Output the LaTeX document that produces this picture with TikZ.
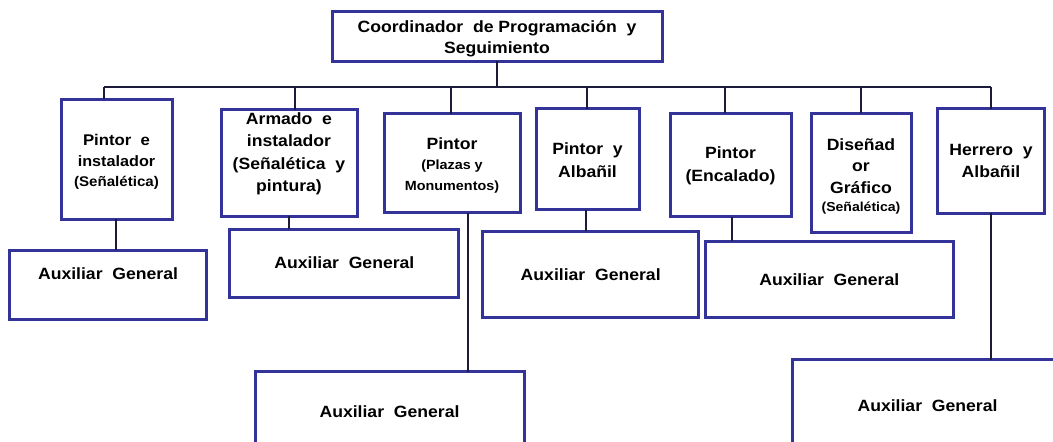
\documentclass[tikz,border=0pt]{standalone}
\usepackage{fontspec}
\setmainfont{Liberation Sans}[FakeStretch=1.08, BoldFont={Liberation Sans Bold}]
\definecolor{boxblue}{RGB}{51,51,153}
\definecolor{connline}{RGB}{28,28,58}
\newcommand{\mainf}{\fontsize{16.3}{21.5}\selectfont}
\newcommand{\midf}{\fontsize{15}{20}\selectfont}
\newcommand{\smf}{\fontsize{13.3}{19}\selectfont}
\tikzset{
  orgbox/.style={draw=boxblue, line width=3pt, fill=white, inner sep=0pt, outer sep=0pt},
  txt/.style={align=center, inner sep=0pt, font=\bfseries\mainf, text=black},
  conn/.style={draw=connline, line width=2pt}
}
\begin{document}
\begin{tikzpicture}[x=1pt,y=-1pt]
\useasboundingbox (0,0) rectangle (1053,442);
\clip (0,0) rectangle (1053,442);
% top
\node[orgbox, minimum width=330pt, minimum height=50pt, label={[txt,yshift=-2.5pt]center:{Coordinador\ \ de Programación\ \ y\\Seguimiento}}] (top) at (497,36) {};
% level 2
\node[orgbox, minimum width=111pt, minimum height=120pt, label={[txt,yshift=-3pt]center:{{\fontsize{15.5}{20}\selectfont Pintor\ \ e}\\[-1pt]{\midf instalador}\\[-1pt]{\fontsize{14}{19}\selectfont (Señalética)}}}] (b1) at (116.5,159) {};
\node[orgbox, minimum width=136pt, minimum height=106.5pt, label={[txt,yshift=9pt]center:{Armado\ \ e\\[1pt]instalador\\[1pt](Señalética\ \ y\\[1pt]pintura)}}] (b2) at (289,163) {};
\node[orgbox, minimum width=136pt, minimum height=99pt, label={[txt,yshift=-2pt]center:{Pintor\\[-1pt]{\smf (Plazas y}\\[-1pt]{\smf Monumentos)}}}] (b3) at (452,163) {};
\node[orgbox, minimum width=103pt, minimum height=101pt, label={[txt,yshift=-1pt]center:{Pintor\ \ y\\[1pt]Albañil}}] (b4) at (587.5,159) {};
\node[orgbox, minimum width=121pt, minimum height=103.5pt, label={[txt,yshift=-1pt]center:{Pintor\\[2pt](Encalado)}}] (b5) at (730.5,165) {};
\node[orgbox, minimum width=100pt, minimum height=119.5pt, label={[txt,yshift=-3.5pt]center:{Diseñad\\or\\Gráfico\\[-3pt]{\fontsize{13}{17}\selectfont (Señalética)}}}] (b6) at (861,173) {};
\node[orgbox, minimum width=106.5pt, minimum height=104.7pt, label={[txt]center:{Herrero\ \ y\\Albañil}}] (b7) at (991,161) {};
% auxiliares
\node[orgbox, minimum width=197pt, minimum height=69pt, label={[txt,yshift=11pt]center:{Auxiliar\ \ General}}] (a1) at (108,284.5) {};
\node[orgbox, minimum width=229pt, minimum height=68pt, label={[txt]center:{Auxiliar\ \ General}}] (a2) at (344.4,263) {};
\node[orgbox, minimum width=269pt, minimum height=71.5pt, label={[txt,yshift=-4pt]center:{Auxiliar\ \ General}}] (a3) at (389.5,407.25) {};
\node[orgbox, minimum width=215.5pt, minimum height=86.6pt, label={[txt]center:{Auxiliar\ \ General}}] (a4) at (590.7,274.3) {};
\node[orgbox, minimum width=247.4pt, minimum height=76.6pt, label={[txt]center:{Auxiliar\ \ General}}] (a5) at (829.3,279.3) {};
\node[orgbox, minimum width=271pt, minimum height=83.3pt, label={[txt,yshift=-4pt]center:{Auxiliar\ \ General}}] (a7) at (927.5,401.35) {};
% bus
\coordinate (j0) at (497,87);
\coordinate (j1) at (104,87);
\coordinate (j2) at (295,87);
\coordinate (j3) at (451,87);
\coordinate (j4) at (587,87);
\coordinate (j5) at (725,87);
\coordinate (j6) at (861,87);
\coordinate (j7) at (991,87);
\draw[conn] (top.south) -- (j0);
\draw[conn] (j1) -- (j7);
\draw[conn] (j1) -- (j1 |- b1.north);
\draw[conn] (j2) -- (j2 |- b2.north);
\draw[conn] (j3) -- (j3 |- b3.north);
\draw[conn] (j4) -- (j4 |- b4.north);
\draw[conn] (j5) -- (j5 |- b5.north);
\draw[conn] (j6) -- (j6 |- b6.north);
\draw[conn] (j7) -- (j7 |- b7.north);
% children
\draw[conn] ([xshift=-0.5pt]b1.south) -- ([xshift=-0.5pt]b1.south |- a1.north);
\draw[conn] ([xshift=-0.4pt]b2.south) -- ([xshift=-0.4pt]b2.south |- a2.north);
\draw[conn] ([xshift=15.6pt]b3.south) -- ([xshift=15.6pt]b3.south |- a3.north);
\draw[conn] ([xshift=-1.9pt]b4.south) -- ([xshift=-1.9pt]b4.south |- a4.north);
\draw[conn] ([xshift=1.5pt]b5.south) -- ([xshift=1.5pt]b5.south |- a5.north);
\draw[conn] (b7.south) -- (b7.south |- a7.north);
\end{tikzpicture}
\end{document}
